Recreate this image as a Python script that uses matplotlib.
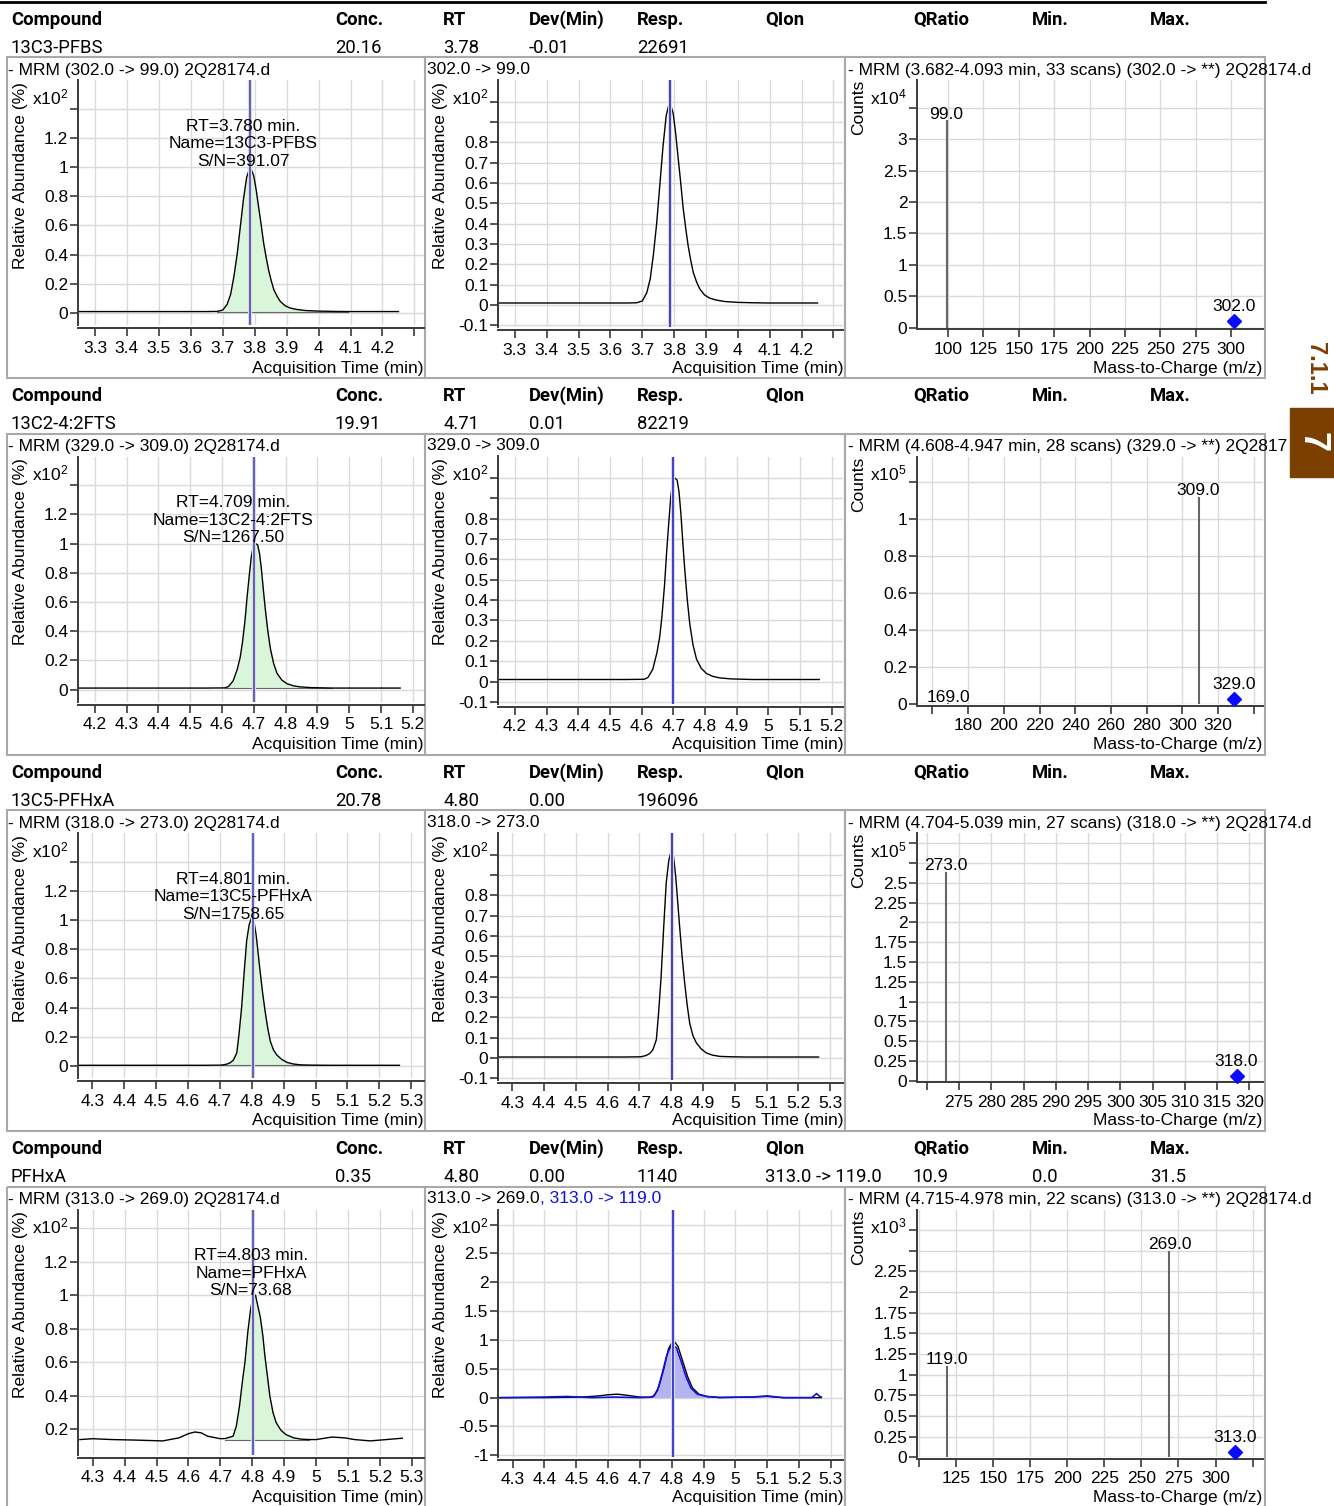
import matplotlib
matplotlib.use('Agg')
import matplotlib.pyplot as plt
from matplotlib import font_manager
from matplotlib.patches import Rectangle
import numpy as np

plt.rcParams['font.family'] = ['Liberation Sans', 'DejaVu Sans']
plt.rcParams['mathtext.fontset'] = 'custom'
plt.rcParams['mathtext.rm'] = 'Liberation Sans'
plt.rcParams['mathtext.it'] = 'Liberation Sans'

names = {f.name for f in font_manager.fontManager.ttflist}
head_font, head_size = 'DejaVu Sans', 11.5
for n, s in [('Liberation Sans Narrow', 14.5), ('Roboto', 13.3)]:
    if n in names:
        head_font, head_size = n, s
        break

W, H = 1334, 1506
STEP = 376.5

# ---- table rows ----
header_cols = ['Compound', 'Conc.', 'RT', 'Dev(Min)', 'Resp.', 'QIon', 'QRatio', 'Min.', 'Max.']
header_x = [11, 335, 443, 529, 637, 765, 913, 1032, 1150]
compounds = ['13C3-PFBS', '13C2-4:2FTS', '13C5-PFHxA', 'PFHxA']
conc = ['20.16', '19.91', '20.78', '0.35']
rt = ['3.78', '4.71', '4.80', '4.80']
dev = ['-0.01', '0.01', '0.00', '0.00']
resp = ['22691', '82219', '196096', '1140']
qion = ['', '', '', '313.0 -> 119.0']
qratio = ['', '', '', '10.9']
qmin = ['', '', '', '0.0']
qmax = ['', '', '', '31.5']

# ---- chromatograms (x10^2 %) ----
t1 = [3.25, 3.40, 3.55, 3.65, 3.682, 3.70, 3.714, 3.725, 3.735, 3.745, 3.755, 3.765, 3.775, 3.784, 3.79,
      3.797, 3.805, 3.812, 3.82, 3.828, 3.836, 3.844, 3.852, 3.86, 3.87, 3.88, 3.895, 3.91, 3.93, 3.96,
      4.00, 4.05, 4.093, 4.15, 4.25]
y1 = [0.01, 0.01, 0.01, 0.01, 0.011, 0.02, 0.06, 0.13, 0.25, 0.40, 0.59, 0.78, 0.93, 0.99, 0.98,
      0.94, 0.84, 0.73, 0.61, 0.48, 0.38, 0.29, 0.22, 0.16, 0.115, 0.08, 0.05, 0.035, 0.025, 0.017,
      0.013, 0.011, 0.01, 0.01, 0.01]
t2 = [4.15, 4.30, 4.45, 4.55, 4.608, 4.62, 4.635, 4.648, 4.657, 4.664, 4.672, 4.679, 4.686, 4.692, 4.698,
      4.705, 4.712, 4.718, 4.724, 4.73, 4.736, 4.744, 4.752, 4.762, 4.773, 4.788, 4.804, 4.825, 4.846, 4.88,
      4.947, 5.0, 5.16]
y2 = [0.01, 0.01, 0.01, 0.01, 0.011, 0.02, 0.06, 0.14, 0.22, 0.32, 0.47, 0.64, 0.79, 0.91, 0.98,
      1.0, 0.99, 0.93, 0.82, 0.68, 0.55, 0.40, 0.28, 0.18, 0.11, 0.065, 0.04, 0.025, 0.018, 0.013,
      0.01, 0.01, 0.01]
t3 = [4.26, 4.40, 4.55, 4.65, 4.704, 4.72, 4.732, 4.742, 4.753, 4.76, 4.768, 4.776, 4.784, 4.792, 4.80,
      4.807, 4.814, 4.82, 4.826, 4.834, 4.842, 4.85, 4.858, 4.868, 4.879, 4.894, 4.91, 4.93, 4.953, 4.99,
      5.039, 5.10, 5.263]
y3 = [0.005, 0.005, 0.005, 0.005, 0.006, 0.012, 0.022, 0.04, 0.09, 0.22, 0.40, 0.64, 0.86, 0.97, 1.02,
      0.99, 0.89, 0.77, 0.65, 0.50, 0.37, 0.26, 0.17, 0.11, 0.074, 0.045, 0.025, 0.014, 0.008, 0.006,
      0.005, 0.005, 0.005]
t4 = [4.26, 4.30, 4.36, 4.43, 4.52, 4.57, 4.60, 4.62, 4.64, 4.66, 4.70, 4.715, 4.74, 4.75, 4.76,
      4.77, 4.777, 4.786, 4.795, 4.803, 4.81, 4.818, 4.825, 4.833, 4.84, 4.848, 4.855, 4.865, 4.875, 4.89,
      4.905, 4.93, 4.955, 4.978, 5.00, 5.05, 5.09, 5.12, 5.17, 5.22, 5.27]
y4 = [0.14, 0.145, 0.14, 0.137, 0.132, 0.15, 0.175, 0.185, 0.18, 0.16, 0.145, 0.146, 0.16, 0.22, 0.34,
      0.50, 0.60, 0.78, 0.92, 0.99, 1.0, 0.93, 0.87, 0.76, 0.63, 0.51, 0.40, 0.30, 0.24, 0.195,
      0.17, 0.15, 0.142, 0.14, 0.14, 0.155, 0.15, 0.14, 0.132, 0.14, 0.148]
# PFHxA overlay: quantifier (black) and qualifier (blue)
t5 = [4.26, 4.40, 4.52, 4.57, 4.60, 4.63, 4.66, 4.70, 4.73, 4.745, 4.76, 4.775, 4.79, 4.805, 4.82,
      4.835, 4.85, 4.865, 4.885, 4.91, 4.95, 5.05, 5.10, 5.15, 5.27]
y5 = [0.0, 0.0, 0.01, 0.03, 0.05, 0.06, 0.04, 0.01, 0.005, 0.03, 0.2, 0.5, 0.85, 1.0, 0.88,
      0.62, 0.36, 0.17, 0.06, 0.02, 0.0, 0.01, 0.02, 0.0, 0.0]
t6 = [4.26, 4.40, 4.47, 4.55, 4.62, 4.70, 4.74, 4.755, 4.77, 4.785, 4.80, 4.815, 4.83, 4.845, 4.86,
      4.88, 4.91, 4.95, 5.05, 5.10, 5.15, 5.24, 5.255, 5.265, 5.27]
y6 = [0.0, 0.01, 0.02, 0.0, 0.01, 0.0, 0.01, 0.12, 0.42, 0.75, 0.92, 0.86, 0.62, 0.36, 0.17,
      0.06, 0.02, 0.005, 0.01, 0.03, 0.0, 0.0, 0.07, 0.02, 0.01]

chrom_t = [t1, t2, t3, t4]
chrom_y = [y1, y2, y3, y4]
fill_base = [0.01, 0.01, 0.005, 0.138]
integ = [(3.682, 4.093), (4.608, 4.947), (4.704, 5.039), (4.715, 4.978)]
scans = [33, 28, 27, 22]
precursor = [302.0, 329.0, 318.0, 313.0]
product = [99.0, 309.0, 273.0, 269.0]
rt_line = [3.786, 4.700, 4.803, 4.803]
rt_text = ['3.780', '4.709', '4.801', '4.803']
sn_text = ['391.07', '1267.50', '1758.65', '73.68']
ann_x = [243, 233, 233, 251]
# the side tab hides the end of this spectrum title
spec_file = ['2Q28174.d', '2Q2817', '2Q28174.d', '2Q28174.d']

# ---- product ion spectra ----
spec_mz = [[99.0], [169.0, 309.0], [273.0], [119.0, 269.0]]
spec_counts = [[3.3], [0.005, 1.12], [2.64], [1.11, 2.5]]
prec_counts = [0.1, 0.03, 0.055, 0.06]
spec_exp = [4, 5, 5, 3]

# ---- axis settings ----
chrom_xlim = [(3.247, 4.33), (4.147, 5.235), (4.255, 5.34), (4.254, 5.338)]
chrom_xt0 = [3.3, 4.2, 4.3, 4.3]
chrom_last_lab = [False, True, True, True]
spec_xlim = [(78.1, 322.6), (151.4, 345.1), (268.5, 322.1), (98.9, 332.0)]
spec_xticks = [(100, 300, 25), (160, 340, 20), (270, 320, 5), (100, 325, 25)]
spec_xlab = [(100, 300), (180, 320), (275, 320), (125, 300)]
spec_ytop = [3.94, 1.338, 3.13, 3.0]
spec_yticks = [(0.5, 3.5, 3.0), (0.2, 1.2, 1.0), (0.25, 3.0, 2.5), (0.25, 2.75, 2.25)]

INK = '#3a3a3a'
GRID = '#dadada'
BOX = '#a9a9a9'
BROWN = '#7b3f00'
FS = 12.5

fig = plt.figure(figsize=(W / 100, H / 100), dpi=100)
bg = fig.add_axes([0, 0, 1, 1])
bg.set_xlim(0, W)
bg.set_ylim(H, 0)
bg.axis('off')


def add_ax(x0, y0, x1, y1):
    return fig.add_axes([x0 / W, 1 - y1 / H, (x1 - x0) / W, (y1 - y0) / H])


def fmt(v):
    return f'{round(v, 4):g}'


def style(ax, xlim, ylim, xt, xl, yt, yl, outward):
    ax.set_xlim(*xlim)
    ax.set_ylim(*ylim)
    ax.set_xticks(xt, labels=xl)
    ax.set_yticks(yt, labels=yl)
    for s in ['top', 'right']:
        ax.spines[s].set_visible(False)
    for s in ['left', 'bottom']:
        ax.spines[s].set_color(INK)
        ax.spines[s].set_linewidth(1.4)
    ax.spines['bottom'].set_position(('outward', outward))
    ax.tick_params(direction='out', length=5.5, width=1.2, color=INK, labelsize=FS)
    ax.tick_params(axis='y', pad=1.5)
    ax.tick_params(axis='x', pad=3.5)
    ax.grid(True, color=GRID, lw=1)
    ax.set_axisbelow(True)


bg.plot([0, 1265], [2, 2], color='black', lw=2)

for k in range(4):
    o = k * STEP
    # table
    row_vals = [compounds[k], conc[k], rt[k], dev[k], resp[k], qion[k], qratio[k], qmin[k], qmax[k]]
    for x, h, v in zip(header_x, header_cols, row_vals):
        bg.text(x, 19.5 + o, h, family=head_font, fontsize=head_size, fontweight='bold', va='center')
        bg.text(x, 47.5 + o, v, family=head_font, fontsize=head_size, va='center')
    # panel boxes
    for x0, x1 in [(7, 425), (425, 845), (845, 1265)]:
        bg.add_patch(Rectangle((x0, 57 + o), x1 - x0, 321, fill=False, ec=BOX, lw=1.5))

    t = np.array(chrom_t[k])
    y = np.array(chrom_y[k])
    a, b = integ[k]
    m = (t >= a - 1e-9) & (t <= b + 1e-9)
    xt = [chrom_xt0[k] + 0.1 * i for i in range(11)]
    xl = [fmt(v) for v in xt]
    if not chrom_last_lab[k]:
        xl[-1] = ''

    # ---- left: quantifier chromatogram with integration ----
    axl = add_ax(78, 80 + o, 424, 325 + o)
    if k < 3:
        yt = [0.2 * i for i in range(8)]
        style(axl, chrom_xlim[k], (-0.082, 1.596), xt, xl, yt,
              [fmt(v) for v in yt[:-1]] + [''], 2.2)
    else:
        yt = [0.2 * i for i in range(1, 8)]
        style(axl, chrom_xlim[k], (0.051, 1.51), xt, xl, yt,
              [fmt(v) for v in yt[:-1]] + [''], 2.2)
    axl.fill_between(t[m], fill_base[k], y[m], color='#daf6da', lw=0)
    axl.plot([a, b], [fill_base[k], fill_base[k]], color='#666666', lw=0.8)
    axl.plot(t, y, color='black', lw=1)
    axl.axvline(rt_line[k], color='#dcdcdc', lw=3, zorder=3)
    axl.axvline(rt_line[k], color='#4a4ab8', lw=1.2, zorder=4)
    lines = [f'RT={rt_text[k]} min.', f'Name={compounds[k]}', f'S/N={sn_text[k]}']
    for j, s in enumerate(lines):
        axl.text(ann_x[k], 126 + o + 17.5 * j, s, transform=bg.transData, ha='center', va='center',
                 fontsize=FS, zorder=6)

    # ---- middle: overlay chromatogram ----
    axm = add_ax(498, 80 + o, 843, 327 + o)
    if k < 3:
        yt = [-0.1 + 0.1 * i for i in range(12)]
        style(axm, chrom_xlim[k], (-0.108, 1.106), xt, xl, yt,
              [fmt(v) for v in yt[:-2]] + ['', ''], 2.2)
        axm.plot(t, y, color='black', lw=1)
    else:
        yt = [-1 + 0.5 * i for i in range(9)]
        style(axm, chrom_xlim[k], (-1.02, 3.26), xt, xl, yt,
              [fmt(v) for v in yt[:-1]] + [''], 2.2)
        tb = np.array(t6)
        yb = np.array(y6)
        mb = (tb >= 4.74) & (tb <= 4.95)
        axm.fill_between(tb[mb], 0, yb[mb], color='#b4b4f2', lw=0)
        axm.plot(t5, y5, color='black', lw=1)
        axm.plot(t6, y6, color='#1010e0', lw=1.2)
    axm.axvline(rt_line[k], color='#dcdcdc', lw=3, zorder=3)
    axm.axvline(rt_line[k], color='#1414c8', lw=1.1, zorder=4)

    # ---- right: product ion spectrum ----
    axr = add_ax(917, 80 + o, 1263, 327.7 + o)
    s0, s1, ss = spec_xticks[k]
    sxt = list(range(s0, s1 + 1, ss))
    l0, l1 = spec_xlab[k]
    sxl = [str(v) if l0 <= v <= l1 else '' for v in sxt]
    ystep, ymaxt, ymaxl = spec_yticks[k]
    n = int(round(ymaxt / ystep))
    syt = [ystep * i for i in range(n + 1)]
    syl = [fmt(v) if v <= ymaxl + 1e-9 else '' for v in syt]
    style(axr, spec_xlim[k], (0, spec_ytop[k]), sxt, sxl, syt, syl, 1)
    axr.vlines(spec_mz[k], 0, spec_counts[k], color='#666666', lw=1.5)
    for mz, c in zip(spec_mz[k], spec_counts[k]):
        axr.annotate(f'{mz:.1f}', (mz, c), xytext=(0, -1), textcoords='offset points',
                     ha='center', va='bottom', fontsize=FS, annotation_clip=False)
    axr.plot([precursor[k]], [prec_counts[k]], 'D', color='#0a0aff', ms=7, clip_on=False, zorder=5)
    axr.annotate(f'{precursor[k]:.1f}', (precursor[k], prec_counts[k]), xytext=(0, 5),
                 textcoords='offset points', ha='center', va='bottom', fontsize=FS)

    # ---- panel titles and axis labels ----
    bg.text(8, 70 + o, f'- MRM ({precursor[k]:.1f} -> {product[k]:.1f}) 2Q28174.d', fontsize=FS, va='center')
    mt = bg.text(427, 69 + o, f'{precursor[k]:.1f} -> {product[k]:.1f}', fontsize=FS, va='center')
    bg.text(848, 70 + o,
            f'- MRM ({a:.3f}-{b:.3f} min, {scans[k]} scans) ({precursor[k]:.1f} -> **) {spec_file[k]}',
            fontsize=FS, va='center')
    for xl_, xu in [(21, 32), (441, 452)]:
        bg.text(xl_, 82 + o, 'Relative Abundance (%)', rotation=90, ha='center', va='top', fontsize=FS)
        bg.text(xu, 97 + o, r'x10$^{2}$', ha='left', va='center', fontsize=FS)
    bg.text(859, 80 + o, 'Counts', rotation=90, ha='center', va='top', fontsize=FS)
    bg.text(870, 97 + o, rf'x10$^{{{spec_exp[k]}}}$', ha='left', va='center', fontsize=FS)
    bg.text(423, 368 + o, 'Acquisition Time (min)', ha='right', va='center', fontsize=FS)
    bg.text(843, 368 + o, 'Acquisition Time (min)', ha='right', va='center', fontsize=FS)
    bg.text(1262, 368 + o, 'Mass-to-Charge (m/z)', ha='right', va='center', fontsize=FS)

    if k == 3:
        r = fig.canvas.get_renderer()
        bb = mt.get_window_extent(renderer=r)
        inv = bg.transData.inverted()
        xend = inv.transform((bb.x1, bb.y0))[0]
        bg.text(xend, 69 + o, f', {precursor[k]:.1f} -> 119.0', fontsize=FS, va='center', color='#1010e0')
        bg.text(506, 1228, f'Ratio = {qratio[k]} ({qmin[k]} - {qmax[k]})', fontsize=FS, va='center',
                color='#1010e0')

# side tab
bg.text(1316, 368, '7.1.1', rotation=-90, color=BROWN, fontsize=17, fontweight='bold',
        ha='center', va='center')
bg.add_patch(Rectangle((1290, 408), 44, 69, color=BROWN, zorder=10))
bg.text(1312, 442, '7', rotation=-90, color='white', fontsize=26, fontweight='bold',
        ha='center', va='center', zorder=11)

fig.savefig('out.png', dpi=100)
